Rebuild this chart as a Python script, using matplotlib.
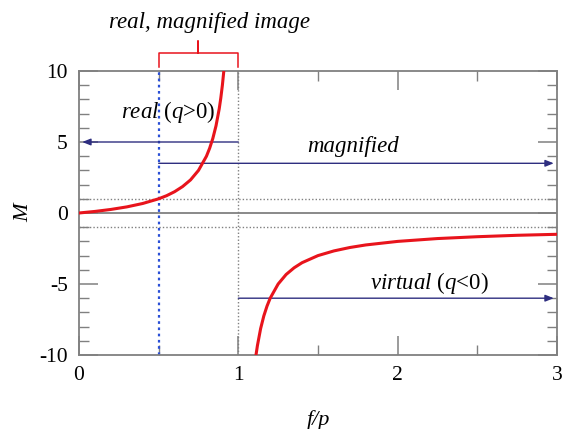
import matplotlib.pyplot as plt
from matplotlib.ticker import MultipleLocator

# red curve: real branch and virtual branch
x_real = [0.0, 0.1, 0.2, 0.3, 0.4, 0.5, 0.55, 0.6, 0.65, 0.7, 0.75, 0.8,
          0.82, 0.84, 0.86, 0.88, 0.89, 0.9, 0.909]
m_real = [0.0, 0.11, 0.25, 0.43, 0.67, 1.0, 1.22, 1.5, 1.86, 2.33, 3.0, 4.0,
          4.56, 5.25, 6.14, 7.33, 8.09, 9.0, 10.0]
x_virt = [1.111, 1.12, 1.14, 1.16, 1.18, 1.2, 1.25, 1.3, 1.35, 1.4, 1.5, 1.6,
          1.7, 1.8, 2.0, 2.25, 2.5, 2.75, 3.0]
m_virt = [-10.0, -9.33, -8.14, -7.25, -6.56, -6.0, -5.0, -4.33, -3.86, -3.5,
          -3.0, -2.67, -2.43, -2.25, -2.0, -1.8, -1.67, -1.57, -1.5]

x_ticks = [0, 1, 2, 3]
y_ticks = [-10, -5, 0, 5, 10]

plt.rcParams['font.family'] = ['Liberation Serif', 'DejaVu Serif']
plt.rcParams['axes.unicode_minus'] = False
plt.rcParams['mathtext.fontset'] = 'custom'
plt.rcParams['mathtext.rm'] = 'Liberation Serif'
plt.rcParams['mathtext.it'] = 'Liberation Serif:italic'

fig = plt.figure(figsize=(5.63, 4.29), dpi=100)
ax = fig.add_axes([0.1403, 0.1725, 0.849, 0.662])

gray = '#808080'
navy = '#2e2e80'
red = '#e8141c'

ax.axhline(0, color=gray, lw=1.3, zorder=1)
ax.axhline(1, color=gray, lw=1.0, ls=(0, (1, 1.5)), zorder=1)
ax.axhline(-1, color=gray, lw=1.0, ls=(0, (1, 1.5)), zorder=1)
ax.axvline(1, color=gray, lw=1.0, ls=(0, (1, 1.5)), zorder=1)
ax.axvline(0.5, color='#2a4fd6', lw=1.6, ls=(0, (1.2, 1.6)), zorder=2)

ax.plot(x_real, m_real, color=red, lw=2.2, zorder=4)
ax.plot(x_virt, m_virt, color=red, lw=2.2, zorder=4)

arrow = dict(arrowstyle='-|>,head_length=0.5,head_width=0.2', color=navy, lw=1.0,
             shrinkA=0, shrinkB=0)
ax.annotate('', xy=(0.02, 5), xytext=(1.0, 5), arrowprops=arrow, zorder=3)
ax.annotate('', xy=(2.98, 3.5), xytext=(0.5, 3.5), arrowprops=arrow, zorder=3)
ax.annotate('', xy=(2.98, -6), xytext=(1.0, -6), arrowprops=arrow, zorder=3)

ax.text(0.56, 7.1, r'$real$ ($q$>0)', fontsize=16.5, ha='center', va='center', zorder=5)
ax.text(1.72, 4.7, 'magnified', fontsize=16.5, style='italic', ha='center', va='center')
ax.text(2.2, -4.9, r'$virtual$ ($q$<0)', fontsize=16.5, ha='center', va='center')

# bracket above the plot
ax.plot([0.5, 0.5, 0.75, 0.75, 0.75, 1.0, 1.0],
        [10.3, 11.3, 11.3, 12.1, 11.3, 11.3, 10.3],
        color=red, lw=1.1, clip_on=False)
ax.text(0.82, 13.45, 'real, magnified image', fontsize=16.5, style='italic',
        ha='center', va='center', clip_on=False)

ax.set_xlim(0, 3)
ax.set_ylim(-10, 10)
ax.set_xticks(x_ticks)
ax.set_yticks(y_ticks)
ax.xaxis.set_minor_locator(MultipleLocator(0.5))
ax.yaxis.set_minor_locator(MultipleLocator(1))
ax.tick_params(which='both', direction='in', top=True, right=True, color=gray,
               labelsize=15.5)
ax.tick_params(which='major', length=14, width=1.1, pad=8)
ax.tick_params(which='minor', length=7, width=1.0)
for s in ax.spines.values():
    s.set_color(gray)
    s.set_linewidth(1.3)

ax.set_xlabel('f/p', fontsize=16, style='italic', labelpad=18)
ax.set_ylabel('M', fontsize=16, style='italic', labelpad=4)

fig.savefig('out.png', dpi=100)
